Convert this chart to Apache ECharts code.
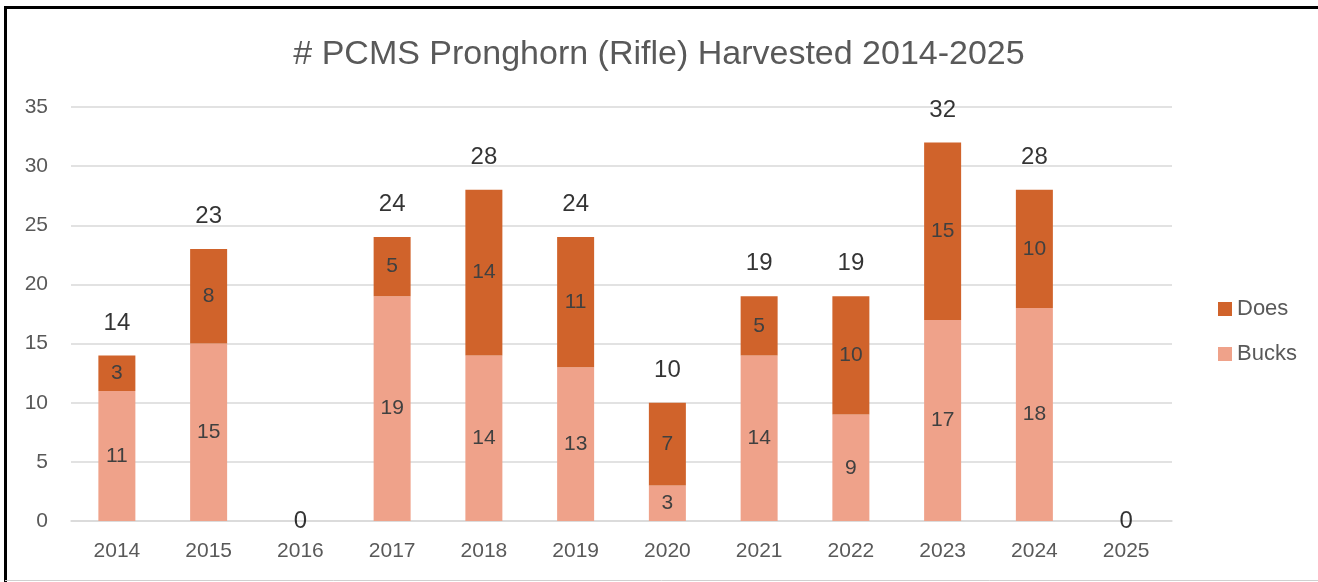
<!DOCTYPE html>
<html>
<head>
<meta charset="utf-8">
<script src="https://cdn.jsdelivr.net/npm/echarts@6/dist/echarts.min.js"></script>
<style>
  html, body { margin: 0; padding: 0; background: #fff; }
  #chart { width: 1318px; height: 582px; }
</style>
</head>
<body>
<div id="chart"></div>
<script>
const titleText = '# PCMS Pronghorn (Rifle) Harvested 2014-2025';
const years = ['2014','2015','2016','2017','2018','2019','2020','2021','2022','2023','2024','2025'];
const bucks = [11, 15, 0, 19, 14, 13, 3, 14, 9, 17, 18, 0];
const does  = [3, 8, 0, 5, 14, 11, 7, 5, 10, 15, 10, 0];
const totals = [14, 23, 0, 24, 28, 24, 10, 19, 19, 32, 28, 0];
const yTicks = { min: 0, max: 35, interval: 5 };

const chart = echarts.init(document.getElementById('chart'), null, { renderer: 'canvas' });
const font = '"Liberation Sans", Arial, sans-serif';

const segLabel = {
  show: true,
  position: 'inside',
  color: '#404040',
  fontSize: 21,
  fontFamily: font,
  formatter: p => (p.value ? String(p.value) : '')
};

chart.setOption({
  backgroundColor: '#ffffff',
  animation: false,
  title: {
    text: titleText,
    left: 'center',
    top: 33,
    textStyle: { color: '#595959', fontSize: 34, fontWeight: 'normal', fontFamily: font }
  },
  legend: {
    orient: 'vertical',
    left: 1213,
    top: 293,
    itemWidth: 14,
    itemHeight: 14,
    itemGap: 23,
    icon: 'rect',
    data: ['Does', 'Bucks'],
    textStyle: { color: '#595959', fontSize: 22, fontFamily: font }
  },
  grid: { left: 71, right: 146, top: 107, bottom: 61, containLabel: false },
  xAxis: {
    type: 'category',
    data: years,
    axisLine: { lineStyle: { color: '#D9D9D9', width: 1.5 } },
    axisTick: { show: false },
    axisLabel: { color: '#595959', fontSize: 21, fontFamily: font, margin: 20 }
  },
  yAxis: {
    type: 'value',
    min: yTicks.min,
    max: yTicks.max,
    interval: yTicks.interval,
    axisLine: { show: false },
    axisTick: { show: false },
    axisLabel: { color: '#595959', fontSize: 21, fontFamily: font, margin: 23 },
    splitLine: { lineStyle: { color: '#D9D9D9', width: 1.5 } }
  },
  series: [
    {
      name: 'Bucks', type: 'bar', stack: 'h', data: bucks, barWidth: 37,
      itemStyle: { color: '#EFA28A' }, label: segLabel
    },
    {
      name: 'Does', type: 'bar', stack: 'h', data: does, barWidth: 37,
      itemStyle: { color: '#D0632B' }, label: segLabel
    },
    {
      name: 'Total', type: 'scatter', symbolSize: 1, itemStyle: { color: 'rgba(0,0,0,0)' },
      z: 5,
      data: totals.map(v => ({
        value: v,
        label: v === 0 ? { position: 'inside' } : { position: 'top', distance: 20 }
      })),
      label: { show: true, color: '#000000', fontSize: 24, fontFamily: font },
      tooltip: { show: false }
    }
  ],
  graphic: [
    { type: 'line', shape: { x1: 5, y1: 7.5, x2: 1318, y2: 7.5 }, style: { stroke: '#000', lineWidth: 3 } },
    { type: 'line', shape: { x1: 5.5, y1: 6, x2: 5.5, y2: 582 }, style: { stroke: '#000', lineWidth: 3 } },
    { type: 'line', shape: { x1: 5, y1: 580.5, x2: 1318, y2: 580.5 }, style: { stroke: '#D0D0D0', lineWidth: 1 } }
  ]
});
</script>
</body>
</html>
